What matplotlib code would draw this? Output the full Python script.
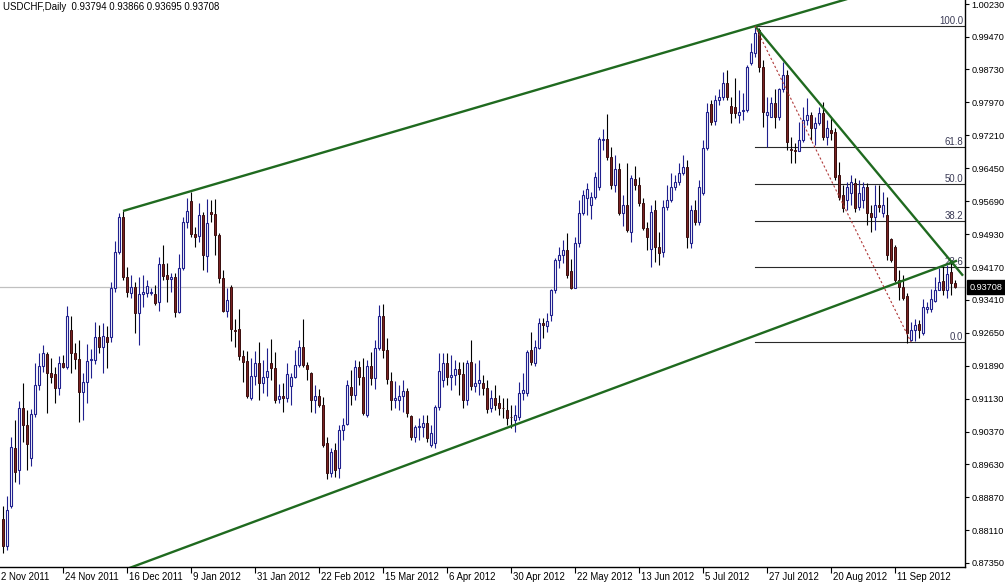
import matplotlib
matplotlib.use("Agg")
import matplotlib.pyplot as plt
import matplotlib.transforms as mtransforms
import numpy as np

plt.rcParams['font.family'] = ['Liberation Sans', 'DejaVu Sans']

# daily USDCHF candles, one entry per bar
opens = [
    .8836, .8774, .8866, .9000, .8949, .9093, .9052, .8977, .9079, .9145,
    .9189, .9217, .9173, .9171, .9139, .9196, .9187, .9272, .9219, .9205,
    .9129, .9152, .9203, .9203, .9256, .9233, .9256, .9256, .9369, .9451,
    .9532, .9394, .9357, .9371, .9311, .9355, .9357, .9357, .9355, .9336,
    .9424, .9398, .9389, .9394, .9313, .9415, .9520, .9569, .9493, .9488,
    .9537, .9442, .9544, .9539, .9491, .9392, .9316, .9371, .9272, .9274,
    .9212, .9201, .9115, .9166, .9196, .9150, .9164, .9196, .9185, .9113,
    .9120, .9115, .9143, .9164, .9191, .9233, .9191, .9173, .9111, .9120,
    .9099, .9011, .8942, .8995, .8954, .9041, .9055, .9141, .9122, .9187,
    .9164, .9076, .9189, .9162, .9231, .9304, .9226, .9155, .9111, .9111,
    .9120, .9132, .9074, .9025, .9048, .9048, .9057, .9007, .9011, .9094,
    .9157, .9196, .9164, .9169, .9182, .9171, .9111, .9198, .9143, .9150,
    .9150, .9139, .9092, .9115, .9104, .9092, .9088, .9072, .9064, .9072,
    .9127, .9127, .9226, .9196, .9231, .9288, .9281, .9306, .9364, .9433,
    .9445, .9456, .9408, .9369, .9472, .9541, .9576, .9560, .9578, .9601,
    .9710, .9712, .9671, .9606, .9643, .9541, .9560, .9498, .9620, .9606,
    .9564, .9507, .9459, .9548, .9463, .9451, .9555, .9571, .9601, .9613,
    .9634, .9647, .9472, .9548, .9521, .9588, .9691, .9793, .9753, .9802,
    .9809, .9841, .9788, .9786, .9767, .9776, .9779, .9887, .9910, .9963,
    .9878, .9767, .9763, .9795, .9763, .9827, .9859, .9689, .9687, .9685,
    .9710, .9756, .9767, .9737, .9749, .9772, .9717, .9733, .9728, .9629,
    .9583, .9571, .9588, .9611, .9555, .9571, .9601, .9541, .9532, .9560,
    .9541, .9537, .9482, .9463, .9387, .9371, .9350, .9249, .9272, .9286,
    .9265, .9320, .9320, .9338, .9364, .9384, .9364, .9405, .93794,
]
highs = [
    .8866, .8889, .9025, .9064, .9109, .9150, .9088, .9090, .9196, .9219,
    .9237, .9221, .9208, .9187, .9212, .9214, .9327, .9304, .9242, .9249,
    .9173, .9240, .9228, .9290, .9283, .9288, .9281, .9382, .9477, .9541,
    .9546, .9417, .9398, .9382, .9394, .9398, .9387, .9369, .9375, .9440,
    .9468, .9426, .9403, .9403, .9447, .9532, .9576, .9590, .9509, .9564,
    .9544, .9574, .9571, .9574, .9495, .9410, .9369, .9375, .9297, .9320,
    .9226, .9224, .9208, .9224, .9244, .9203, .9231, .9251, .9221, .9148,
    .9150, .9196, .9173, .9226, .9249, .9297, .9198, .9175, .9145, .9136,
    .9118, .9025, .9000, .9011, .9052, .9069, .9157, .9180, .9203, .9201,
    .9208, .9203, .9221, .9249, .9329, .9332, .9254, .9175, .9155, .9145,
    .9157, .9139, .9076, .9052, .9069, .9076, .9076, .9052, .9099, .9219,
    .9219, .9219, .9214, .9203, .9198, .9198, .9203, .9249, .9196, .9203,
    .9168, .9157, .9134, .9145, .9122, .9115, .9115, .9099, .9099, .9152,
    .9173, .9226, .9267, .9249, .9300, .9300, .9311, .9366, .9438, .9463,
    .9479, .9495, .9435, .9486, .9571, .9594, .9611, .9590, .9636, .9717,
    .9735, .9770, .9694, .9675, .9657, .9583, .9657, .9629, .9650, .9624,
    .9576, .9521, .9560, .9571, .9498, .9571, .9606, .9634, .9629, .9657,
    .9675, .9664, .9560, .9571, .9617, .9710, .9795, .9802, .9813, .9827,
    .9866, .9871, .9809, .9852, .9825, .9818, .9882, .9933, .9972, .9968,
    .9894, .9809, .9809, .9827, .9829, .9889, .9871, .9717, .9703, .9751,
    .9786, .9806, .9774, .9763, .9786, .9797, .9756, .9760, .9737, .9659,
    .9606, .9613, .9629, .9622, .9618, .9613, .9611, .9560, .9606, .9606,
    .9590, .9578, .9484, .9468, .9410, .9398, .9357, .9290, .9297, .9295,
    .9343, .9336, .9366, .9394, .9415, .9419, .9422, .9428, .93866,
]
lows = [
    .8758, .8765, .8862, .8921, .8917, .9013, .8949, .8958, .9072, .9134,
    .9175, .9081, .9150, .9104, .9122, .9185, .9182, .9173, .9182, .9059,
    .9064, .9104, .9162, .9194, .9219, .9173, .9185, .9244, .9359, .9447,
    .9387, .9348, .9346, .9265, .9237, .9325, .9348, .9352, .9329, .9316,
    .9387, .9336, .9359, .9302, .9311, .9410, .9507, .9486, .9463, .9475,
    .9410, .9406, .9521, .9444, .9380, .9313, .9302, .9247, .9233, .9203,
    .9152, .9115, .9111, .9145, .9111, .9127, .9120, .9157, .9104, .9104,
    .9083, .9106, .9099, .9162, .9187, .9187, .9157, .9083, .9081, .9094,
    .9002, .8928, .8933, .8933, .8931, .9018, .9052, .9099, .9111, .9145,
    .9076, .9072, .9145, .9136, .9226, .9208, .9148, .9088, .9092, .9088,
    .9083, .9072, .9018, .9013, .9018, .9025, .9013, .9002, .8999, .9088,
    .9141, .9145, .9134, .9145, .9122, .9092, .9099, .9134, .9129, .9122,
    .9122, .9081, .9083, .9088, .9076, .9069, .9052, .9046, .9037, .9064,
    .9111, .9120, .9191, .9189, .9228, .9253, .9267, .9293, .9357, .9415,
    .9426, .9391, .9366, .9369, .9463, .9537, .9537, .9528, .9574, .9594,
    .9687, .9664, .9597, .9590, .9537, .9511, .9498, .9475, .9594, .9557,
    .9502, .9456, .9417, .9428, .9422, .9440, .9548, .9567, .9594, .9606,
    .9629, .9461, .9461, .9514, .9514, .9583, .9687, .9744, .9744, .9790,
    .9802, .9802, .9749, .9760, .9749, .9756, .9774, .9882, .9901, .9866,
    .9740, .9694, .9763, .9737, .9756, .9820, .9687, .9657, .9657, .9685,
    .9705, .9744, .9710, .9698, .9744, .9710, .9698, .9710, .9618, .9571,
    .9544, .9548, .9560, .9544, .9548, .9553, .9514, .9498, .9502, .9544,
    .9532, .9433, .9428, .9382, .9341, .9341, .9243, .9246, .9246, .9253,
    .9260, .9311, .9313, .9336, .9364, .9352, .9346, .9352, .93695,
]
closes = [
    .8774, .8857, .9002, .8944, .9093, .9052, .9009, .9079, .9145, .9189,
    .9219, .9173, .9164, .9139, .9196, .9187, .9304, .9219, .9205, .9129,
    .9152, .9201, .9204, .9256, .9233, .9258, .9244, .9369, .9451, .9532,
    .9394, .9359, .9371, .9311, .9355, .9359, .9373, .9359, .9334, .9424,
    .9396, .9389, .9394, .9313, .9415, .9520, .9546, .9493, .9486, .9537,
    .9444, .9518, .9539, .9491, .9392, .9316, .9341, .9274, .9270, .9212,
    .9198, .9120, .9166, .9196, .9150, .9164, .9178, .9185, .9111, .9120,
    .9115, .9171, .9164, .9191, .9233, .9191, .9182, .9111, .9120, .9099,
    .9007, .8942, .8990, .8949, .9041, .9052, .9145, .9122, .9187, .9164,
    .9081, .9189, .9162, .9231, .9304, .9226, .9159, .9111, .9115, .9120,
    .9132, .9081, .9025, .9048, .9050, .9057, .9023, .9034, .9094, .9178,
    .9196, .9164, .9169, .9182, .9171, .9111, .9196, .9143, .9150, .9157,
    .9139, .9090, .9115, .9099, .9092, .9091, .9069, .9071, .9076, .9127,
    .9134, .9221, .9198, .9233, .9288, .9283, .9293, .9364, .9433, .9445,
    .9456, .9398, .9369, .9472, .9541, .9583, .9597, .9578, .9624, .9712,
    .9712, .9671, .9606, .9643, .9541, .9560, .9502, .9622, .9606, .9564,
    .9507, .9486, .9544, .9463, .9449, .9555, .9571, .9601, .9613, .9634,
    .9647, .9486, .9548, .9521, .9601, .9691, .9774, .9751, .9802, .9809,
    .9841, .9809, .9772, .9772, .9774, .9779, .9878, .9912, .9956, .9878,
    .9774, .9774, .9795, .9763, .9827, .9859, .9705, .9687, .9685, .9710,
    .9756, .9767, .9737, .9749, .9772, .9717, .9737, .9726, .9624, .9578,
    .9553, .9601, .9613, .9553, .9588, .9601, .9541, .9532, .9560, .9555,
    .9560, .9445, .9433, .9387, .9371, .9346, .9265, .9272, .9283, .9272,
    .9325, .9325, .9343, .9364, .9382, .9364, .9401, .9380, .93708,
]

date_labels = ["2 Nov 2011", "24 Nov 2011", "16 Dec 2011", "9 Jan 2012",
               "31 Jan 2012", "22 Feb 2012", "15 Mar 2012", "6 Apr 2012",
               "30 Apr 2012", "22 May 2012", "13 Jun 2012", "5 Jul 2012",
               "27 Jul 2012", "20 Aug 2012", "11 Sep 2012"]
date_bars = [-1, 15, 31, 47, 63, 79, 95, 111, 127, 143, 159, 175, 191, 207, 223]

price_ticks = [1.00230, 0.99470, 0.98730, 0.97970, 0.97210, 0.96450, 0.95690,
               0.94930, 0.94170, 0.93410, 0.92650, 0.91890, 0.91130, 0.90370,
               0.89630, 0.88870, 0.88110, 0.87350]

title = "USDCHF,Daily  0.93794 0.93866 0.93695 0.93708"
last_price = 0.93708

# fibonacci retracement: from the July high to the September low
fib_start, fib_end = 188, 227
fib_high, fib_low = 0.99723, 0.92442
fib_levels = [0.0, 23.6, 38.2, 50.0, 61.8, 100.0]

# trend lines, each as two anchor points (bar, price)
upper_line = [(30, 0.9546), (188, 0.99723)]
lower_line = [(127, 0.9050), (238, 0.9430)]
down_line = [(188, 0.99723), (240, 0.9397)]

BULL_EDGE = '#20208e'
BEAR_FILL = '#7a2222'
BEAR_EDGE = '#3a0e0e'
GREEN = '#1f6a1f'
FS = 6.9
YFS = 6.6

opens, highs, lows, closes = map(np.array, (opens, highs, lows, closes))
assert len(opens) == len(highs) == len(lows) == len(closes)
x = np.arange(len(opens))

fig = plt.figure(figsize=(10.05, 5.84), dpi=100)
fig.patch.set_facecolor('white')
ax = fig.add_axes([0, 17 / 584, 965 / 1005, 567 / 584])
ax.set_xlim(-0.75, 240.5)
ax.set_ylim(0.872576, 1.003222)

# current price line
ax.axhline(last_price, color='#c0c0c0', lw=0.9, zorder=1)

# fib levels
for lev in fib_levels:
    p = fib_low + (fib_high - fib_low) * lev / 100.0
    ax.plot([fib_start, 240.5], [p, p], color='#2a2a2a', lw=0.8, zorder=1.5)
    ax.text(240.0, p, f"{lev:.1f}", ha='right', va='bottom', fontsize=FS,
            color='#3a3a55', zorder=1.6)

# candles
bull = closes >= opens
ax.vlines(x[bull], lows[bull], highs[bull], colors=BULL_EDGE, lw=0.8, zorder=2)
ax.vlines(x[~bull], lows[~bull], highs[~bull], colors='black', lw=0.8, zorder=2)
body_lo = np.minimum(opens, closes)
body_h = np.abs(closes - opens)
ax.bar(x[bull], body_h[bull], bottom=body_lo[bull], width=0.6,
       color='white', edgecolor=BULL_EDGE, linewidth=0.8, zorder=3)
ax.bar(x[~bull], body_h[~bull], bottom=body_lo[~bull], width=0.6,
       color=BEAR_FILL, edgecolor=BEAR_EDGE, linewidth=0.7, zorder=3)


def line_through(pts, x0, x1):
    (xa, ya), (xb, yb) = pts
    k = (yb - ya) / (xb - xa)
    return [x0, x1], [ya + k * (x0 - xa), ya + k * (x1 - xa)]


ax.plot(*line_through(upper_line, 30, 260), color=GREEN, lw=1.7, zorder=4,
        solid_capstyle='butt')
ax.plot(*line_through(lower_line, 0, 238.5), color=GREEN, lw=1.7, zorder=4,
        solid_capstyle='butt')
ax.plot(*line_through(down_line, 188, 240), color=GREEN, lw=1.7, zorder=4,
        solid_capstyle='butt')
ax.plot([fib_start, fib_end], [fib_high, fib_low], color='#b03a3a', lw=0.8,
        ls=(0, (2, 2)), zorder=4)

# axes / frame
for side in ('top', 'left'):
    ax.spines[side].set_visible(False)
for side in ('right', 'bottom'):
    ax.spines[side].set_color('black')
    ax.spines[side].set_linewidth(1.0)
ax.yaxis.tick_right()
ax.set_yticks(price_ticks)
ax.set_yticklabels([f"{v:.5f}" for v in price_ticks])
ax.tick_params(axis='y', direction='out', length=3, width=0.8, pad=1.5,
               labelsize=YFS, colors='black')
ax.set_xticks([b for b in date_bars if b >= 0])
ax.set_xticklabels([])
ax.tick_params(axis='x', direction='out', length=4, width=0.8)

trans = mtransforms.blended_transform_factory(ax.transData, ax.transAxes)
for b, lab in zip(date_bars, date_labels):
    ax.text(max(b + 0.4, -0.7), -10 / 567, lab, transform=trans, ha='left',
            va='center', fontsize=FS, color='black', clip_on=False)

ytrans = ax.get_yaxis_transform()
ax.text(1.005, last_price, f"{last_price:.5f}", transform=ytrans, ha='left',
        va='center', fontsize=YFS, color='white', clip_on=False,
        bbox=dict(boxstyle='square,pad=0.3', facecolor='black', edgecolor='black'))

ax.text(3 / 965, 1 - 7 / 567, title, transform=ax.transAxes, ha='left',
        va='center', fontsize=FS, color='black')

fig.savefig("out.png", dpi=100, facecolor='white')
